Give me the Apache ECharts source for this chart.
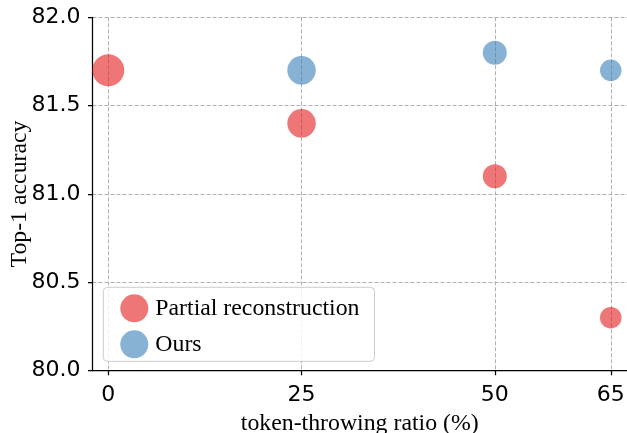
<!DOCTYPE html>
<html>
<head>
<meta charset="utf-8">
<script src="https://cdn.jsdelivr.net/npm/echarts@6/dist/echarts.min.js"></script>
<style>html,body{margin:0;padding:0;background:#fff;}#c{width:627px;height:433px;}</style>
</head>
<body>
<div id="c"></div>
<script>
// Data
const xTicks = [0, 25, 50, 65];
const yTicks = [80.0, 80.5, 81.0, 81.5, 82.0];
const partialRatio = [0, 25, 50, 65];
const partialAcc = [81.7, 81.4, 81.1, 80.3];
const oursRatio = [25, 50, 65];
const oursAcc = [81.7, 81.8, 81.7];
const seriesNames = ['Partial reconstruction', 'Ours'];
const xName = 'token-throwing ratio (%)';
const yName = 'Top-1 accuracy';

// Style: marker diameter per ratio
const sizeByRatio = {0: 32, 25: 28.5, 50: 24, 65: 21.5};

const serif = '"Liberation Serif", "Times New Roman", serif';
const sans = '"DejaVu Sans", sans-serif';

function pts(xs, ys) { return xs.map((x, i) => [x, ys[i]]); }

const chart = echarts.init(document.getElementById('c'), null, {renderer: 'canvas'});
chart.setOption({
  animation: false,
  backgroundColor: '#fff',
  grid: {left: 92.5, right: 0, top: 17.3, bottom: 62.3, containLabel: false, outerBoundsMode: 'none'},
  xAxis: {
    type: 'value', min: -2.04, max: 67.1,
    name: xName, nameLocation: 'middle', nameGap: 39,
    nameTextStyle: {fontFamily: serif, fontSize: 23.8, color: '#000'},
    axisLine: {show: true, onZero: false, lineStyle: {color: '#000', width: 1.25}},
    axisTick: {show: true, length: 4.5, inside: false, customValues: xTicks, lineStyle: {color: '#000', width: 1.25}},
    axisLabel: {customValues: xTicks, fontFamily: sans, fontSize: 22, color: '#000', margin: 14},
    splitLine: {show: true, lineStyle: {color: '#b0b0b0', width: 1, type: [4, 2]}}
  },
  yAxis: {
    type: 'value', min: 80, max: 82, interval: 0.5,
    name: yName, nameLocation: 'middle', nameGap: 61, nameMoveOverlap: false,
    nameTextStyle: {fontFamily: serif, fontSize: 23.8, color: '#000'},
    axisLine: {show: true, onZero: false, lineStyle: {color: '#000', width: 1.25}},
    axisTick: {show: true, length: 4.5, inside: false, lineStyle: {color: '#000', width: 1.25}},
    axisLabel: {fontFamily: sans, fontSize: 22, color: '#000', margin: 12,
      formatter: v => yTicks.indexOf(v) >= 0 ? v.toFixed(1) : ''},
    splitLine: {show: true, lineStyle: {color: '#b0b0b0', width: 1, type: [4, 2]}}
  },
  legend: {
    left: 103.3, top: 287.3, orient: 'vertical',
    data: seriesNames,
    icon: 'circle', itemWidth: 28, itemHeight: 28, itemGap: 8,
    backgroundColor: 'rgba(255,255,255,0.8)', borderColor: '#cccccc', borderWidth: 1, borderRadius: 4,
    padding: [7, 15, 3, 17],
    textStyle: {fontFamily: serif, fontSize: 23.8, color: '#000', padding: [0, 0, 0, 2]}
  },
  series: [
    {
      name: seriesNames[0], type: 'scatter',
      data: pts(partialRatio, partialAcc),
      symbolSize: d => sizeByRatio[d[0]],
      itemStyle: {color: '#e41a1c', opacity: 0.6},
      z: 3
    },
    {
      name: seriesNames[1], type: 'scatter',
      data: pts(oursRatio, oursAcc),
      symbolSize: d => sizeByRatio[d[0]],
      itemStyle: {color: '#377eb8', opacity: 0.6},
      z: 3
    }
  ]
});
</script>
</body>
</html>
